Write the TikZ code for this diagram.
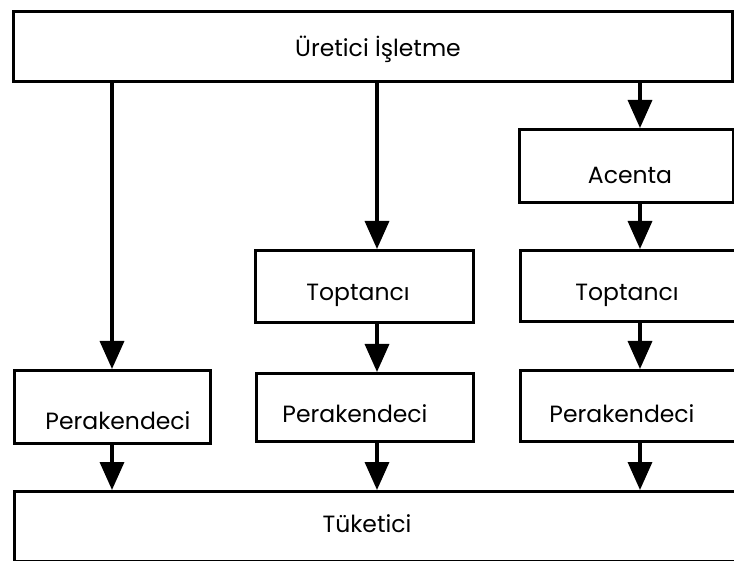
\documentclass[tikz,border=0pt]{standalone}
\usepackage{fontspec}
\setmainfont{Poppins}
\usetikzlibrary{arrows.meta}
\begin{document}
\begin{tikzpicture}[x=1pt,y=-1pt,
  box/.style={draw, line width=2.8pt, rectangle, inner sep=0pt, anchor=north west},
  flow/.style={line width=3.5pt, -{Triangle[width=24pt,length=28pt]}},
  lbl/.style={font=\fontsize{23.5}{28}\selectfont, inner sep=0pt, anchor=base}]
\path[use as bounding box] (0,0) rectangle (734,561);
\fill[white] (0,0) rectangle (734,561);
\clip (0,0) rectangle (734,561);

% boxes of the distribution channels
\node[box, minimum width=719pt, minimum height=70pt] (uretici) at (12,10) {};
\node[box, minimum width=214pt, minimum height=73pt] (acenta) at (518,128) {};
\node[box, minimum width=218pt, minimum height=72pt] (top1) at (254,249) {};
\node[box, minimum width=240pt, minimum height=71pt] (top2) at (519,249) {};
\node[box, minimum width=196pt, minimum height=73pt] (per1) at (13,369) {};
\node[box, minimum width=217pt, minimum height=68pt] (per2) at (255,372) {};
\node[box, minimum width=240pt, minimum height=71pt] (per3) at (519,369) {};
\node[box, minimum width=740pt, minimum height=70pt] (tuketici) at (13,490) {};

% labels
\node[lbl] (l-uretici) at (378,57) {Üretici İşletme};
\node[lbl] (l-acenta) at (630,184) {Acenta};
\node[lbl] (l-top1) at (358,301) {Toptancı};
\node[lbl] (l-top2) at (627,301) {Toptancı};
\node[lbl] (l-per1) at (118,429) {Perakendeci};
\node[lbl] (l-per2) at (355,422) {Perakendeci};
\node[lbl] (l-per3) at (622,422) {Perakendeci};
\node[lbl] (l-tuketici) at (367,532) {Tüketici};

% channel columns
\coordinate (ca) at (112,0);
\coordinate (cb) at (377,0);
\coordinate (cc) at (640,0);

% flows
\draw[flow] (uretici.south -| ca) -- (per1.north -| ca);
\draw[flow] (uretici.south -| cb) -- (top1.north -| cb);
\draw[flow] (uretici.south -| cc) -- (acenta.north -| cc);
\draw[flow] (acenta.south -| cc) -- (top2.north -| cc);
\draw[flow] (top1.south -| cb) -- (per2.north -| cb);
\draw[flow] (top2.south -| cc) -- (per3.north -| cc);
\draw[flow] (per1.south -| ca) -- (tuketici.north -| ca);
\draw[flow] (per2.south -| cb) -- (tuketici.north -| cb);
\draw[flow] (per3.south -| cc) -- (tuketici.north -| cc);
\end{tikzpicture}
\end{document}
